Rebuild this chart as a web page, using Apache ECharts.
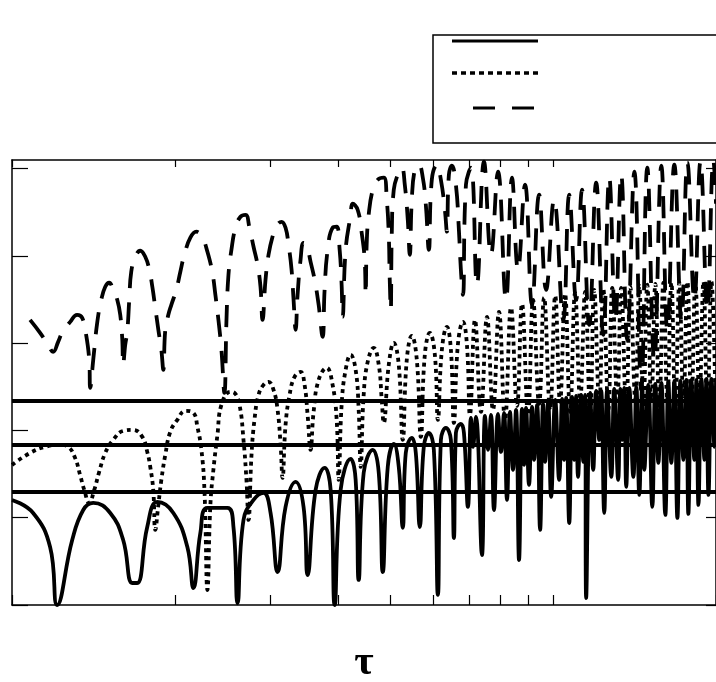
<!DOCTYPE html>
<html>
<head>
<meta charset="utf-8">
<script src="https://cdn.jsdelivr.net/npm/echarts@6/dist/echarts.min.js"></script>
<style>
  html, body { margin: 0; padding: 0; background: #fff; }
  #chart { width: 716px; height: 682px; }
</style>
</head>
<body>
<div id="chart"></div>
<script>
// Response curves versus tau (log axis); values as [tau, amplitude].
const solidPts = [
  [1.000,1.204],[1.094,1.055],[1.176,0.665],[1.212,0.000],
  [1.292,0.745],[1.354,1.089],[1.413,1.170],[1.519,1.055],[1.605,0.745],[1.668,0.252],[1.704,0.252],
  [1.778,0.894],[1.856,1.181],[1.987,1.055],[2.109,0.665],[2.164,0.195],
  [2.229,0.826],[2.297,1.112],[2.501,1.112],[2.566,0.894],[2.611,0.020],
  [2.678,0.975],[2.795,1.204],[2.916,1.284],[3.005,1.055],[3.096,0.378],
  [3.203,1.124],[3.343,1.411],[3.458,1.124],[3.518,0.344],
  [3.640,1.319],[3.782,1.571],[3.880,1.319],[3.947,0.000],
  [4.049,1.319],[4.225,1.674],[4.316,1.433],[4.372,0.287],
  [4.466,1.514],[4.642,1.778],[4.762,1.514],[4.844,0.378],
  [4.948,1.583],[5.076,1.846],[5.185,1.583],[5.274,0.883],
  [5.342,1.743],[5.481,1.915],[5.575,1.743],[5.671,0.894],
  [5.768,1.812],[5.893,1.972],[6.020,1.778],[6.124,0.115],
  [6.203,1.892],[6.336,2.030],[6.473,1.892],[6.556,0.768],
  [6.612,1.972],[6.754,2.076],[6.842,1.972],[6.960,1.124],
  [7.049,2.144],[7.110,1.812],[7.201,2.156],[7.388,0.573],[7.484,2.167],[7.580,1.778],
  [7.677,2.179],[7.776,1.089],[7.910,2.190],[8.011,1.755],[8.114,2.202],[8.218,1.204],
  [8.324,2.213],[8.431,1.548],[8.540,2.236],[8.650,0.516],[8.761,2.248],[8.836,1.606],
  [8.912,2.259],[9.026,1.376],[9.142,2.271],[9.223,1.663],[9.341,2.294],[9.462,0.860],
  [9.583,2.305],[9.666,1.640],[9.790,2.328],[9.916,1.239],[10.09,2.351],[10.26,1.433],
  [10.39,2.362],[10.48,1.663],[10.57,2.374],[10.71,0.940],[10.84,2.385],[10.94,1.663],
  [11.03,2.397],[11.12,1.468],[11.27,2.408],[11.37,1.640],[11.46,2.408],[11.51,0.080],
  [11.71,2.431],[11.86,1.548],[12.01,2.454],[12.17,1.892],[12.27,2.454],[12.43,1.055],
  [12.59,2.466],[12.81,1.468],[12.97,2.477],[13.19,1.433],[13.31,2.477],[13.42,1.892],
  [13.54,2.489],[13.65,1.353],[13.83,2.489],[14.07,1.468],[14.25,2.500],[14.43,1.261],
  [14.61,2.511],[14.74,1.548],[14.99,2.523],[15.25,1.124],[15.45,2.534],[15.65,1.628],
  [15.85,2.546],[16.12,1.032],[16.33,2.557],[16.54,1.628],[16.75,2.569],[16.97,0.998],
  [17.19,2.569],[17.41,1.663],[17.63,2.580],[17.78,1.044],[18.01,2.580],[18.24,1.663],
  [18.40,2.580],[18.56,1.147],[18.80,2.592],[19.04,1.663],[19.20,2.592],[19.37,1.261],
  [19.62,2.592],[19.87,1.812],[20.00,2.580]
];

const dottedPts = [
  [1.000,1.606],[1.080,1.743],[1.151,1.812],[1.227,1.835],[1.270,1.812],[1.308,1.686],[1.336,1.491],[1.360,1.319],[1.389,1.170],
  [1.419,1.319],[1.449,1.525],[1.487,1.743],[1.538,1.892],[1.605,1.995],[1.675,2.007],[1.741,1.927],[1.778,1.755],[1.801,1.583],[1.824,1.319],[1.840,0.860],
  [1.864,1.147],[1.888,1.433],[1.920,1.720],[1.961,1.984],[2.021,2.122],[2.091,2.225],[2.164,2.202],[2.201,2.041],[2.239,1.778],[2.268,1.319],[2.297,0.172],
  [2.326,1.147],[2.356,1.548],[2.397,1.950],[2.438,2.294],[2.533,2.443],
  [2.577,2.431],[2.633,2.294],[2.678,1.892],[2.712,1.433],[2.736,0.975],
  [2.771,1.720],[2.806,2.122],[2.855,2.408],[2.916,2.523],[2.979,2.557],[3.043,2.466],[3.096,2.236],[3.136,1.835],[3.162,1.456],
  [3.203,2.064],[3.258,2.408],[3.328,2.615],[3.414,2.672],[3.473,2.523],[3.518,2.179],[3.563,1.778],
  [3.609,2.213],[3.687,2.580],[3.815,2.718],[3.913,2.523],[3.981,2.122],[4.015,1.433],
  [4.066,2.294],[4.136,2.695],[4.225,2.867],[4.316,2.695],[4.372,2.236],[4.409,1.583],
  [4.466,2.408],[4.543,2.787],[4.661,2.947],[4.762,2.752],[4.823,2.351],[4.864,2.087],
  [4.969,2.752],[5.076,3.005],[5.185,2.752],[5.274,1.892],
  [5.365,2.810],[5.481,3.085],[5.599,2.810],[5.695,1.927],
  [5.793,2.867],[5.918,3.119],[6.046,2.867],[6.124,2.122],
  [6.229,2.924],[6.363,3.188],[6.473,2.924],[6.556,2.087],
  [6.668,2.982],[6.813,3.245],[6.930,2.982],[7.019,2.179],
  [7.171,3.268],[7.356,2.213],[7.547,3.303],[7.743,2.236],[7.943,3.360],[8.149,2.122],
  [8.360,3.406],[8.576,2.282],[8.761,3.452],[8.988,2.179],[9.183,3.498],[9.421,2.305],
  [9.624,3.521],[9.873,2.236],[10.09,3.544],[10.30,2.328],[10.52,3.567],[10.75,2.213],
  [10.98,3.578],[11.22,2.351],[11.46,3.589],[11.71,2.179],[11.91,3.612],[12.17,2.317],
  [12.38,3.624],[12.65,2.236],[12.86,3.635],[13.14,2.351],[13.36,3.635],[13.65,2.236],
  [13.89,3.647],[14.19,2.351],[14.43,3.658],[14.68,2.213],[14.93,3.670],[15.19,2.351],
  [15.45,3.681],[15.71,2.259],[15.99,3.693],[16.26,2.351],[16.54,3.693],[16.82,2.236],
  [17.11,3.693],[17.41,2.351],[17.71,3.704],[18.01,2.259],[18.32,3.704],[18.64,2.351],
  [18.96,3.704],[19.28,2.236],[19.62,3.704],[19.95,2.351]
];

const dashedPts = [
  [1.080,3.268],[1.127,3.119],[1.166,2.982],[1.191,2.901],[1.217,3.016],[1.238,3.119],[1.281,3.245],[1.319,3.326],[1.348,3.291],[1.371,3.096],[1.389,2.810],[1.395,2.489],
  [1.413,2.810],[1.437,3.234],[1.462,3.498],[1.487,3.647],[1.512,3.693],[1.538,3.612],[1.565,3.498],[1.585,3.326],[1.599,3.039],[1.605,2.752],
  [1.619,2.982],[1.633,3.131],[1.647,3.498],[1.661,3.819],[1.690,3.991],[1.726,4.060],[1.763,3.991],[1.794,3.842],[1.817,3.647],[1.840,3.406],[1.864,3.154],[1.888,2.924],[1.904,2.695],
  [1.920,3.154],[1.945,3.326],[1.970,3.440],[2.012,3.612],[2.047,3.819],[2.082,4.014],[2.136,4.209],[2.191,4.278],[2.248,4.209],[2.297,4.048],[2.346,3.807],[2.376,3.555],[2.407,3.268],[2.438,2.924],[2.469,2.431],
  [2.491,3.268],[2.512,3.784],[2.544,4.071],[2.588,4.323],[2.644,4.450],[2.701,4.472],[2.747,4.323],[2.795,4.106],[2.843,3.899],[2.879,3.647],[2.904,3.268],
  [2.941,3.727],[2.979,4.014],[3.030,4.220],[3.083,4.346],[3.149,4.392],[3.203,4.323],[3.244,4.128],[3.286,3.842],[3.314,3.498],[3.343,3.154],
  [3.371,3.555],[3.414,3.956],[3.458,4.151],[3.503,4.128],[3.563,3.933],[3.625,3.727],[3.687,3.440],[3.750,3.073],
  [3.782,3.612],[3.831,4.071],[3.913,4.323],[3.981,4.335],[4.032,4.071],[4.066,3.670],[4.084,3.303],
  [4.136,4.071],[4.225,4.472],[4.261,4.599],[4.353,4.530],[4.428,4.266],[4.485,3.956],[4.504,3.555],
  [4.523,4.128],[4.562,4.472],[4.642,4.759],[4.742,4.874],[4.864,4.897],[4.927,4.644],[4.969,4.243],[4.990,3.727],[5.012,3.383],
  [5.033,4.243],[5.076,4.759],[5.163,4.931],[5.252,5.011],[5.320,4.817],[5.388,4.415],[5.434,4.014],
  [5.481,4.644],[5.551,4.989],[5.647,5.046],[5.744,4.897],[5.818,4.587],[5.893,4.071],
  [5.968,4.874],[6.098,5.046],[6.203,4.874],[6.309,4.530],[6.363,4.278],
  [6.418,4.931],[6.500,5.034],[6.612,4.817],[6.697,4.300],[6.754,3.842],[6.813,3.555],
  [6.901,4.817],[7.049,5.011],
  [7.232,3.670],[7.452,5.080],[7.677,4.014],[7.910,4.966],[8.183,3.498],[8.395,4.897],
  [8.613,3.842],[8.874,4.817],[9.142,3.440],[9.421,4.702],[9.706,3.612],[10.04,4.644],
  [10.44,3.268],[10.71,4.702],[11.03,3.498],[11.31,4.759],[11.66,3.211],[12.01,4.839],
  [12.38,3.096],[12.70,4.897],[13.03,3.268],[13.36,4.931],[13.71,3.039],[14.13,4.966],
  [14.55,2.466],[14.93,5.011],[15.38,2.810],[15.85,5.034],[16.26,3.154],[16.75,5.046],
  [17.26,3.268],[17.71,5.069],[18.24,3.498],[18.72,5.080],[19.28,3.383],[19.78,5.092],
  [20.00,4.600]
];

// Reference levels drawn as heavy horizontal lines
const levels = [2.339, 1.835, 1.296];

// Axis tick positions
const tauTicks = [1, 2, 3, 4, 5, 6, 7, 8, 9, 10, 20];
const valueTicks = [0, 1, 2, 3, 4, 5];
const TAU_MIN = 1, TAU_MAX = 20;

const ink = '#000';
const chart = echarts.init(document.getElementById('chart'), null, { renderer: 'canvas' });

// Repeat each local minimum so the smoothed path keeps a sharp cusp there
// while the crests between cusps stay rounded.
function keepCusps(pts) {
  const out = [];
  pts.forEach((p, i) => {
    out.push(p);
    const prev = pts[i - 1], next = pts[i + 1];
    if (prev && next && p[1] <= prev[1] && p[1] <= next[1]) out.push(p);
  });
  return out;
}

function frameAxis(extra) {
  return Object.assign({
    axisLine: { show: true, onZero: false, lineStyle: { color: ink, width: 1.5 } },
    axisLabel: { show: false },
    splitLine: { show: false },
    minorTick: { show: false }
  }, extra);
}

const curve = (data, width, dash) => ({
  type: 'line',
  data: keepCusps(data),
  symbol: 'none',
  smooth: 0.45,
  clip: true,
  silent: true,
  lineStyle: { color: ink, width: width, type: dash, cap: 'butt', join: 'round' }
});

const levelSeries = levels.map(v => ({
  type: 'line',
  data: [[TAU_MIN, v], [TAU_MAX, v]],
  symbol: 'none',
  silent: true,
  lineStyle: { color: ink, width: 4 }
}));

chart.setOption({
  animation: false,
  backgroundColor: '#fff',
  grid: { left: 12, right: 0, top: 160, bottom: 77, containLabel: false, outerBoundsMode: 'none' },
  xAxis: [
    frameAxis({
      type: 'log', logBase: 10, min: TAU_MIN, max: TAU_MAX, position: 'bottom',
      name: 'τ', nameLocation: 'middle', nameGap: 37,
      nameTextStyle: { fontFamily: 'Liberation Serif', fontSize: 42, fontWeight: 'bold', color: ink },
      axisTick: { show: true, inside: true, length: 10, customValues: tauTicks, lineStyle: { color: ink, width: 1.2 } }
    }),
    frameAxis({
      type: 'log', logBase: 10, min: TAU_MIN, max: TAU_MAX, position: 'top',
      axisTick: { show: true, inside: true, length: 7, customValues: tauTicks, lineStyle: { color: ink, width: 1.2 } }
    })
  ],
  yAxis: [
    frameAxis({
      type: 'value', min: 0, max: 5.1, position: 'left',
      axisTick: { show: true, inside: true, length: 16, customValues: valueTicks, lineStyle: { color: ink, width: 1.2 } }
    }),
    frameAxis({
      type: 'value', min: 0, max: 5.1, position: 'right',
      axisTick: { show: true, inside: true, length: 10, customValues: valueTicks, lineStyle: { color: ink, width: 1.2 } }
    })
  ],
  series: [
    curve(solidPts, 3.8, 'solid'),
    curve(dottedPts, 3.8, [4, 4]),
    curve(dashedPts, 3.8, [22, 14]),
    ...levelSeries
  ],
  graphic: [
    { type: 'rect', shape: { x: 433, y: 35, width: 290, height: 108 },
      style: { fill: null, stroke: ink, lineWidth: 1.5 } },
    { type: 'line', shape: { x1: 452, y1: 41, x2: 538, y2: 41 },
      style: { stroke: ink, lineWidth: 3 } },
    { type: 'line', shape: { x1: 452, y1: 73, x2: 538, y2: 73 },
      style: { stroke: ink, lineWidth: 3.5, lineDash: [5, 4] } },
    { type: 'line', shape: { x1: 473, y1: 108, x2: 535, y2: 108 },
      style: { stroke: ink, lineWidth: 3, lineDash: [22, 17] } }
  ]
});
</script>
</body>
</html>
